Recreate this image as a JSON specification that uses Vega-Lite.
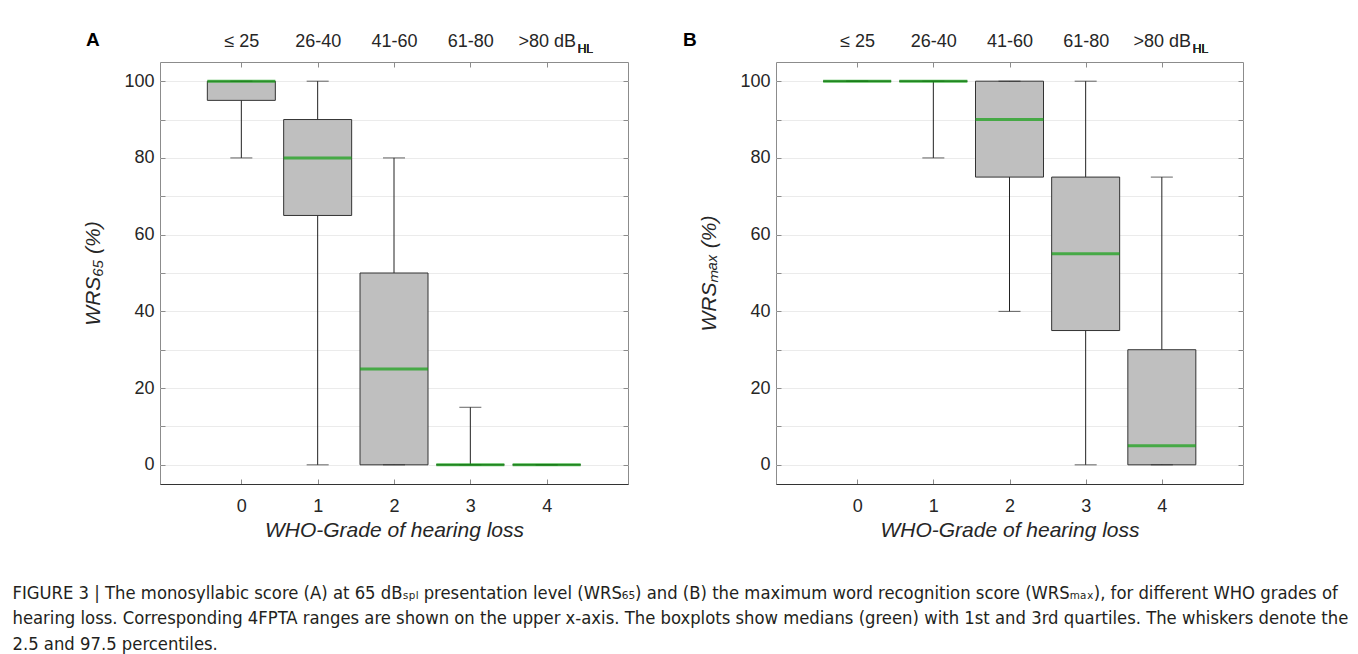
{
  "$schema": "https://vega.github.io/schema/vega-lite/v6.json",
  "padding": {"left": 12, "top": 30, "right": 5, "bottom": 3},
  "background": "white",
  "datasets": {
    "a": [
      {"grade": 0, "lo": 80, "q1": 95, "med": 100, "q3": 100, "hi": 100},
      {"grade": 1, "lo": 0, "q1": 65, "med": 80, "q3": 90, "hi": 100},
      {"grade": 2, "lo": 0, "q1": 0, "med": 25, "q3": 50, "hi": 80},
      {"grade": 3, "lo": 0, "q1": 0, "med": 0, "q3": 0, "hi": 15},
      {"grade": 4, "lo": 0, "q1": 0, "med": 0, "q3": 0, "hi": 0}
    ],
    "b": [
      {"grade": 0, "lo": 100, "q1": 100, "med": 100, "q3": 100, "hi": 100},
      {"grade": 1, "lo": 80, "q1": 100, "med": 100, "q3": 100, "hi": 100},
      {"grade": 2, "lo": 40, "q1": 75, "med": 90, "q3": 100, "hi": 100},
      {"grade": 3, "lo": 0, "q1": 35, "med": 55, "q3": 75, "hi": 100},
      {"grade": 4, "lo": 0, "q1": 0, "med": 5, "q3": 30, "hi": 75}
    ]
  },
  "title": {
    "text": [
      "FIGURE 3 | The monosyllabic score (A) at 65 dBₛₚₗ presentation level (WRS₆₅) and (B) the maximum word recognition score (WRSₘₐₓ), for different WHO grades of",
      "hearing loss. Corresponding 4FPTA ranges are shown on the upper x-axis. The boxplots show medians (green) with 1st and 3rd quartiles. The whiskers denote the",
      "2.5 and 97.5 percentiles."
    ],
    "orient": "bottom",
    "anchor": "start",
    "frame": "bounds",
    "font": "DejaVu Sans Condensed, Liberation Sans",
    "fontSize": 18.3,
    "fontWeight": "normal",
    "color": "#231f20",
    "lineHeight": 25.5,
    "offset": 44,
    "dx": -70
  },
  "hconcat": [
    {
      "width": 468,
      "height": 422,
      "data": {"name": "a"},
      "title": {"text": "A", "anchor": "start", "frame": "bounds", "dx": 3, "offset": -18, "fontSize": 19, "fontWeight": "bold", "color": "#000000", "font": "Liberation Sans"},
      "layer": [
        {
          "mark": {"type": "rule", "color": "#222222", "strokeWidth": 1},
          "encoding": {
            "x": {"field": "grade", "type": "quantitative", "scale": {"domain": [-1, 5], "nice": false, "zero": false},
              "axis": {"orient": "bottom", "values": [0, 1, 2, 3, 4], "format": "d", "grid": false, "tickSize": -5, "labelPadding": 18, "title": "WHO-Grade of hearing loss", "titlePadding": 4, "domain": true, "domainColor": "#333333"}},
            "y": {"field": "lo", "type": "quantitative", "scale": {"domain": [-5, 105], "nice": false, "zero": false},
              "axis": {"orient": "left", "values": [0, 10, 20, 30, 40, 50, 60, 70, 80, 90, 100], "labelExpr": "datum.value % 20 == 0 ? datum.label : ''", "grid": true, "tickSize": -5, "labelPadding": 11, "title": "WRS₆₅ (%)", "titlePadding": 20, "domain": false}},
            "y2": {"field": "hi"}
          }
        },
        {
          "mark": {"type": "bar", "fill": "#bfbfbf", "stroke": "#333333", "strokeWidth": 1, "width": 68},
          "encoding": {
            "x": {"field": "grade", "type": "quantitative", "scale": {"domain": [-1, 5], "nice": false, "zero": false}, "axis": null},
            "y": {"field": "q1", "type": "quantitative", "scale": {"domain": [-5, 105], "nice": false, "zero": false}, "axis": null},
            "y2": {"field": "q3"}
          }
        },
        {
          "mark": {"type": "tick", "orient": "horizontal", "size": 22, "thickness": 1, "color": "#222222"},
          "encoding": {
            "x": {"field": "grade", "type": "quantitative", "scale": {"domain": [-1, 5], "nice": false, "zero": false}, "axis": null},
            "y": {"field": "lo", "type": "quantitative", "scale": {"domain": [-5, 105], "nice": false, "zero": false}, "axis": null}
          }
        },
        {
          "mark": {"type": "tick", "orient": "horizontal", "size": 22, "thickness": 1, "color": "#222222"},
          "encoding": {
            "x": {"field": "grade", "type": "quantitative", "scale": {"domain": [-1, 5], "nice": false, "zero": false}, "axis": null},
            "y": {"field": "hi", "type": "quantitative", "scale": {"domain": [-5, 105], "nice": false, "zero": false}, "axis": null}
          }
        },
        {
          "mark": {"type": "tick", "orient": "horizontal", "size": 68, "thickness": 3, "color": "#13a013"},
          "encoding": {
            "x": {"field": "grade", "type": "quantitative", "scale": {"domain": [-1, 5], "nice": false, "zero": false},
              "axis": {"orient": "top", "values": [0, 1, 2, 3, 4], "labelExpr": "['≤ 25','26-40','41-60','61-80','>80 dB'][datum.value]", "grid": false, "tickSize": -5, "labelPadding": 17, "title": null, "domain": false}},
            "y": {"field": "med", "type": "quantitative", "scale": {"domain": [-5, 105], "nice": false, "zero": false},
              "axis": {"orient": "right", "values": [0, 10, 20, 30, 40, 50, 60, 70, 80, 90, 100], "labels": false, "grid": false, "tickSize": -5, "title": null, "domain": false}}
          }
        },
        {
          "mark": {"type": "text", "align": "left", "baseline": "alphabetic", "dx": 31, "dy": -9, "fontSize": 12, "color": "#262626", "font": "Liberation Sans"},
          "encoding": {
            "x": {"datum": 4, "type": "quantitative", "scale": {"domain": [-1, 5], "nice": false, "zero": false}, "axis": null},
            "y": {"datum": 105, "type": "quantitative", "scale": {"domain": [-5, 105], "nice": false, "zero": false}, "axis": null},
            "text": {"value": "HL"}
          }
        }
      ],
      "resolve": {"axis": {"x": "independent", "y": "independent"}}
    },
    {
      "width": 467,
      "height": 422,
      "data": {"name": "b"},
      "title": {"text": "B", "anchor": "start", "frame": "bounds", "dx": -16, "offset": -18, "fontSize": 19, "fontWeight": "bold", "color": "#000000", "font": "Liberation Sans"},
      "layer": [
        {
          "mark": {"type": "rule", "color": "#222222", "strokeWidth": 1},
          "encoding": {
            "x": {"field": "grade", "type": "quantitative", "scale": {"domain": [-1, 5], "nice": false, "zero": false},
              "axis": {"orient": "bottom", "values": [0, 1, 2, 3, 4], "format": "d", "grid": false, "tickSize": -5, "labelPadding": 18, "title": "WHO-Grade of hearing loss", "titlePadding": 4, "domain": true, "domainColor": "#333333"}},
            "y": {"field": "lo", "type": "quantitative", "scale": {"domain": [-5, 105], "nice": false, "zero": false},
              "axis": {"orient": "left", "values": [0, 10, 20, 30, 40, 50, 60, 70, 80, 90, 100], "labelExpr": "datum.value % 20 == 0 ? datum.label : ''", "grid": true, "tickSize": -5, "labelPadding": 11, "title": "WRSₘₐₓ (%)", "titlePadding": 20, "domain": false}},
            "y2": {"field": "hi"}
          }
        },
        {
          "mark": {"type": "bar", "fill": "#bfbfbf", "stroke": "#333333", "strokeWidth": 1, "width": 68},
          "encoding": {
            "x": {"field": "grade", "type": "quantitative", "scale": {"domain": [-1, 5], "nice": false, "zero": false}, "axis": null},
            "y": {"field": "q1", "type": "quantitative", "scale": {"domain": [-5, 105], "nice": false, "zero": false}, "axis": null},
            "y2": {"field": "q3"}
          }
        },
        {
          "mark": {"type": "tick", "orient": "horizontal", "size": 22, "thickness": 1, "color": "#222222"},
          "encoding": {
            "x": {"field": "grade", "type": "quantitative", "scale": {"domain": [-1, 5], "nice": false, "zero": false}, "axis": null},
            "y": {"field": "lo", "type": "quantitative", "scale": {"domain": [-5, 105], "nice": false, "zero": false}, "axis": null}
          }
        },
        {
          "mark": {"type": "tick", "orient": "horizontal", "size": 22, "thickness": 1, "color": "#222222"},
          "encoding": {
            "x": {"field": "grade", "type": "quantitative", "scale": {"domain": [-1, 5], "nice": false, "zero": false}, "axis": null},
            "y": {"field": "hi", "type": "quantitative", "scale": {"domain": [-5, 105], "nice": false, "zero": false}, "axis": null}
          }
        },
        {
          "mark": {"type": "tick", "orient": "horizontal", "size": 68, "thickness": 3, "color": "#13a013"},
          "encoding": {
            "x": {"field": "grade", "type": "quantitative", "scale": {"domain": [-1, 5], "nice": false, "zero": false},
              "axis": {"orient": "top", "values": [0, 1, 2, 3, 4], "labelExpr": "['≤ 25','26-40','41-60','61-80','>80 dB'][datum.value]", "grid": false, "tickSize": -5, "labelPadding": 17, "title": null, "domain": false}},
            "y": {"field": "med", "type": "quantitative", "scale": {"domain": [-5, 105], "nice": false, "zero": false},
              "axis": {"orient": "right", "values": [0, 10, 20, 30, 40, 50, 60, 70, 80, 90, 100], "labels": false, "grid": false, "tickSize": -5, "title": null, "domain": false}}
          }
        },
        {
          "mark": {"type": "text", "align": "left", "baseline": "alphabetic", "dx": 31, "dy": -9, "fontSize": 12, "color": "#262626", "font": "Liberation Sans"},
          "encoding": {
            "x": {"datum": 4, "type": "quantitative", "scale": {"domain": [-1, 5], "nice": false, "zero": false}, "axis": null},
            "y": {"datum": 105, "type": "quantitative", "scale": {"domain": [-5, 105], "nice": false, "zero": false}, "axis": null},
            "text": {"value": "HL"}
          }
        }
      ],
      "resolve": {"axis": {"x": "independent", "y": "independent"}}
    }
  ],
  "spacing": 53,
  "config": {
    "font": "Liberation Sans",
    "view": {"stroke": "#8c8c8c", "strokeWidth": 1},
    "axis": {
      "labelFont": "Liberation Sans",
      "labelFontSize": 18,
      "labelColor": "#262626",
      "titleFont": "Liberation Sans",
      "titleFontSize": 21,
      "titleFontWeight": "normal",
      "titleFontStyle": "italic",
      "titleColor": "#262626",
      "tickColor": "#8c8c8c",
      "gridColor": "#ebebeb",
      "gridWidth": 1
    }
  }
}
